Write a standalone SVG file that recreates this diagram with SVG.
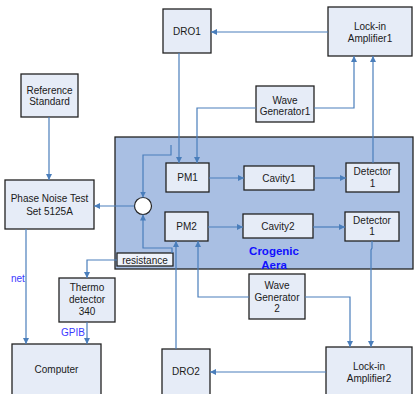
<svg xmlns="http://www.w3.org/2000/svg" width="414" height="394" viewBox="0 0 414 394">
<defs>
<marker id="ah" viewBox="0 0 10 10" refX="10" refY="5" markerWidth="6" markerHeight="6" orient="auto" markerUnits="userSpaceOnUse">
<path d="M0,0 L10,5 L0,10 z" fill="#4a7ebb"/>
</marker>
<style>
.box{fill:#e6ecf7;stroke:#222;stroke-width:1.3}
.area{fill:#a9bfe3;stroke:#222;stroke-width:1.3}
.t{font-family:"Liberation Sans",Arial,sans-serif;font-size:10px;fill:#1a1a1a;text-anchor:middle}
.lbl{font-family:"Liberation Sans",Arial,sans-serif;font-size:10px;fill:#3a3aff}
.cry{font-family:"Liberation Sans",Arial,sans-serif;font-size:11.5px;font-weight:bold;fill:#1010ff;text-anchor:middle}
.c{fill:none;stroke:#4a7ebb;stroke-width:1.2}
.ca{fill:none;stroke:#4a7ebb;stroke-width:1.2;marker-end:url(#ah)}
</style>
</defs>
<rect width="414" height="394" fill="#fff"/>
<g id="cryogenic-area">
<rect class="area" x="115" y="137" width="298" height="132"/>
<text class="cry" x="274" y="255">Crogenic</text>
<text class="cry" x="274" y="269">Aera</text>
</g>
<g id="dro1"><rect class="box" x="163" y="9" width="48" height="44"/><text class="t" x="187" y="35">DRO1</text></g>
<g id="lockin1"><rect class="box" x="328" y="7" width="84" height="49"/><text class="t" x="370" y="30">Lock-in</text><text class="t" x="370" y="42">Amplifier1</text></g>
<g id="refstd"><rect class="box" x="21" y="74" width="57" height="43"/><text class="t" x="49.5" y="94">Reference</text><text class="t" x="49.5" y="105">Standard</text></g>
<g id="wavegen1"><rect class="box" x="256" y="86" width="58" height="36"/><text class="t" x="285" y="104">Wave</text><text class="t" x="285" y="115">Generator1</text></g>
<g id="phasenoise"><rect class="box" x="5" y="180" width="89" height="49"/><text class="t" x="49.5" y="202">Phase Noise Test</text><text class="t" x="49.5" y="215">Set 5125A</text></g>
<g id="pm1"><rect class="box" x="166" y="163" width="43" height="29"/><text class="t" x="187.5" y="181">PM1</text></g>
<g id="pm2"><rect class="box" x="165" y="212" width="43" height="29"/><text class="t" x="186.5" y="230">PM2</text></g>
<g id="cavity1"><rect class="box" x="244" y="166" width="70" height="24"/><text class="t" x="279" y="182">Cavity1</text></g>
<g id="cavity2"><rect class="box" x="243" y="214" width="70" height="24"/><text class="t" x="278" y="230">Cavity2</text></g>
<g id="detector1a"><rect class="box" x="346" y="163" width="53" height="29"/><text class="t" x="372.5" y="175">Detector</text><text class="t" x="372.5" y="187">1</text></g>
<g id="detector1b"><rect class="box" x="345" y="212" width="54" height="29"/><text class="t" x="372" y="224">Detector</text><text class="t" x="372" y="235">1</text></g>
<g id="mixer"><circle cx="143" cy="206" r="8.5" fill="#fff" stroke="#222" stroke-width="1.2"/></g>
<g id="resistance"><rect x="117" y="253" width="56" height="13" fill="#eef2fa" stroke="#222" stroke-width="1.3"/><text class="t" x="145" y="263.5">resistance</text></g>
<g id="thermo"><rect class="box" x="59" y="278" width="56" height="44"/><text class="t" x="87" y="291">Thermo</text><text class="t" x="87" y="303">detector</text><text class="t" x="87" y="315">340</text></g>
<g id="wavegen2"><rect class="box" x="249" y="274" width="56" height="45"/><text class="t" x="277" y="289">Wave</text><text class="t" x="277" y="301">Generator</text><text class="t" x="277" y="312">2</text></g>
<g id="computer"><rect class="box" x="12" y="344" width="89" height="55"/><text class="t" x="56.5" y="373">Computer</text></g>
<g id="dro2"><rect class="box" x="162" y="349" width="48" height="50"/><text class="t" x="186" y="375">DRO2</text></g>
<g id="lockin2"><rect class="box" x="326" y="347" width="86" height="52"/><text class="t" x="369" y="370">Lock-in</text><text class="t" x="369" y="382">Amplifier2</text></g>
<g id="connectors">
<path class="ca" d="M328,32 H211"/>
<path class="ca" d="M314,108 H354 V56"/>
<path class="ca" d="M373,163 V56"/>
<path class="ca" d="M256,108 H197 V163"/>
<path class="ca" d="M179,53 V163"/>
<path class="ca" d="M171,145 V155 H143 V197.5"/>
<path class="ca" d="M134.5,206 H94"/>
<path class="ca" d="M49,117 V180"/>
<path class="ca" d="M209,178 H244"/>
<path class="ca" d="M314,178 H346"/>
<path class="ca" d="M208,227 H243"/>
<path class="ca" d="M313,227 H345"/>
<path class="ca" d="M172,253 V248 H143 V214.5"/>
<path class="ca" d="M117,260 H87 V278"/>
<path class="ca" d="M87,322 V344"/>
<path class="ca" d="M26,229 V344"/>
<path class="ca" d="M176,349 V241"/>
<path class="ca" d="M249,297 H198 V241"/>
<path class="ca" d="M305,297 H350 V347"/>
<path class="ca" d="M372,241 V248 L371,250 V347"/>
<path class="ca" d="M326,372 H210"/>
</g>
<text class="lbl" x="11" y="282">net</text>
<text class="lbl" x="61" y="336">GPIB</text>
</svg>
